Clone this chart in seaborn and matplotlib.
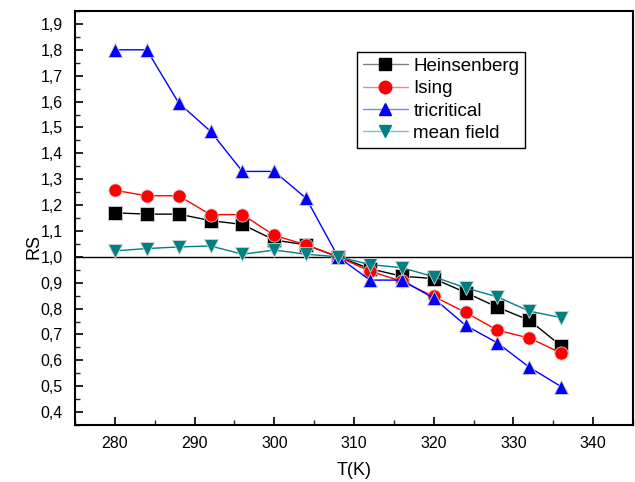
import matplotlib
matplotlib.use("Agg")
import matplotlib.pyplot as plt
from matplotlib.lines import Line2D
from matplotlib.ticker import FixedLocator, MultipleLocator, FuncFormatter
import seaborn as sns
import pandas as pd

T = [280, 284, 288, 292, 296, 300, 304, 308, 312, 316, 320, 324, 328, 332, 336]
heinsenberg = [1.17, 1.165, 1.165, 1.14, 1.125, 1.065, 1.046, 1.00, 0.954, 0.925, 0.916, 0.862, 0.805, 0.755, 0.655]
ising = [1.257, 1.236, 1.236, 1.163, 1.163, 1.083, 1.046, 1.00, 0.945, 0.905, 0.847, 0.785, 0.716, 0.686, 0.628]
tricritical = [1.80, 1.80, 1.595, 1.485, 1.33, 1.33, 1.226, 1.00, 0.91, 0.91, 0.84, 0.735, 0.667, 0.573, 0.498]
mean_field = [1.023, 1.032, 1.038, 1.042, 1.01, 1.026, 1.01, 1.00, 0.97, 0.958, 0.923, 0.88, 0.845, 0.79, 0.765]

series_names = ["Heinsenberg", "Ising", "tricritical", "mean field"]
series_vals = [heinsenberg, ising, tricritical, mean_field]
colors = ["#000000", "#ff0000", "#0000ff", "#008080"]
legend_line_colors = ["#808080", "#ff8080", "#8080ff", "#80c0c0"]
markers = ["s", "o", "^", "v"]

x_ticks = [280, 290, 300, 310, 320, 330, 340]
y_ticks = [0.4, 0.5, 0.6, 0.7, 0.8, 0.9, 1.0, 1.1, 1.2, 1.3, 1.4, 1.5, 1.6, 1.7, 1.8, 1.9]

rows = []
for name, vals in zip(series_names, series_vals):
    for t, v in zip(T, vals):
        rows.append({"T": t, "RS": v, "series": name})
df = pd.DataFrame(rows)

sns.set_style("ticks")
plt.rcParams["font.family"] = ["Liberation Sans", "DejaVu Sans"]
plt.rcParams["text.color"] = "black"
plt.rcParams["axes.labelcolor"] = "black"

fig = plt.figure(figsize=(6.35, 4.82), dpi=100)
ax = fig.add_axes([75/635, 57/482, (633-75)/635, (425-11)/482])

ax.axhline(1.0, color="black", lw=1.0, zorder=1)

sns.lineplot(data=df, x="T", y="RS", hue="series", style="series",
             hue_order=series_names, style_order=series_names,
             palette=dict(zip(series_names, colors)),
             markers=dict(zip(series_names, markers)),
             dashes=False, markersize=9.5, linewidth=1.0,
             markeredgecolor="#d0d0d0", markeredgewidth=0.6,
             ax=ax, legend=False, sort=False, zorder=3)

ax.set_xlim(275, 345)
ax.set_ylim(0.35, 1.95)
ax.xaxis.set_major_locator(FixedLocator(x_ticks))
ax.xaxis.set_minor_locator(MultipleLocator(5))
ax.yaxis.set_major_locator(FixedLocator(y_ticks))
ax.yaxis.set_minor_locator(MultipleLocator(0.05))
ax.yaxis.set_major_formatter(FuncFormatter(lambda v, p: f"{v:.1f}".replace(".", ",")))

ax.tick_params(axis="both", which="major", direction="in", length=6, width=1.2,
               labelsize=11.5, colors="black", top=False, right=False)
ax.tick_params(axis="x", which="major", pad=8)
ax.tick_params(axis="y", which="major", pad=9)
ax.tick_params(axis="both", which="minor", direction="in", length=3.5, width=1.0,
               top=False, right=False)
for s in ax.spines.values():
    s.set_linewidth(1.5)
    s.set_color("black")
    s.set_visible(True)

ax.set_xlabel("T(K)", fontsize=13, labelpad=8, color="black")
ax.set_ylabel("RS", fontsize=13, color="black")
ax.yaxis.set_label_coords(-0.058, 0.43)

handles = [Line2D([], [], color=lc, lw=1.0, marker=m, markersize=9,
                  markerfacecolor=c, markeredgecolor=c)
           for lc, c, m in zip(legend_line_colors, colors, markers)]
leg = ax.legend(handles=handles, labels=series_names, loc="upper left",
                bbox_to_anchor=((357-75)/558, (425-52)/414),
                fontsize=13.5, frameon=True, fancybox=False, edgecolor="black",
                handlelength=2.4, handletextpad=0.3, labelspacing=0.28,
                borderpad=0.3, borderaxespad=0, framealpha=1)
leg.get_frame().set_linewidth(1.0)

fig.savefig("out.png", dpi=100)
